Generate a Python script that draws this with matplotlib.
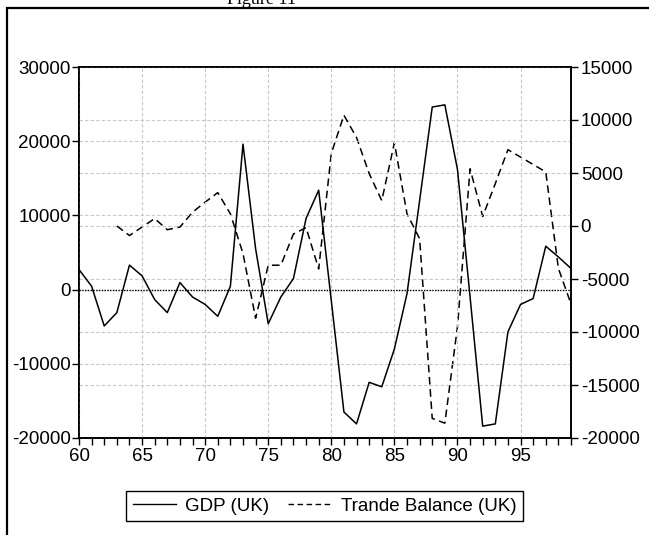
import matplotlib
matplotlib.use("Agg")
import matplotlib.pyplot as plt
from matplotlib.patches import Rectangle
from matplotlib.lines import Line2D

years = list(range(1960, 2000))
gdp = [2700, 450, -4900, -3100, 3300, 1850, -1350, -3100, 950, -1000,
       -2000, -3600, 450, 19600, 5500, -4600, -1000, 1500, 9600, 13400,
       -1500, -16500, -18100, -12500, -13100, -8000, -550, 12000, 24600, 24900,
       16200, -1000, -18400, -18100, -5700, -2000, -1200, 5850, 4400, 2850]
tb_years = list(range(1963, 2000))
trade = [0, -900, -100, 700, -350, -100, 1300, 2250, 3150, 1150,
         -2600, -8700, -3700, -3700, -750, -150, -4050, 6850, 10450, 8350,
         4950, 2400, 7850, 1150, -1200, -18150, -18600, -9500, 5400, 900,
         4000, 7200, 6500, 5800, 5100, -4000, -7350]
x_labels = ["60", "65", "70", "75", "80", "85", "90", "95"]
left_ticks = [-20000, -10000, 0, 10000, 20000, 30000]
right_ticks = [-20000, -15000, -10000, -5000, 0, 5000, 10000, 15000]

plt.rcParams['font.family'] = ['Liberation Sans', 'DejaVu Sans']
W, H = 649, 535
fig = plt.figure(figsize=(W / 100, H / 100), dpi=100)
ax = fig.add_axes([79 / W, 1 - 438 / H, (571 - 79) / W, (438 - 67) / H])
ax2 = ax.twinx()
ax.set_zorder(ax2.get_zorder() + 1)
ax.patch.set_visible(False)

fs = 13.5
grid_kw = dict(color='#c8c8c8', linestyle=(0, (3, 2)), linewidth=0.8)

ax.plot(years, gdp, color='black', linewidth=1.1, label='GDP (UK)')
ax.axhline(0, color='black', linestyle=(0, (1, 1)), linewidth=1.0)
ax2.plot(tb_years, trade, color='black', linewidth=1.1, linestyle=(0, (5, 3)),
         label='Trande Balance (UK)')

ax.set_xlim(1960, 1999)
ax.set_ylim(-20000, 30000)
ax2.set_ylim(-20000, 15000)

ax.set_xticks(list(range(1960, 2000, 5)))
ax.set_xticklabels(x_labels)
ax.set_xticks(list(range(1960, 2000)), minor=True)
ax.set_yticks(left_ticks)
ax.set_yticklabels([str(v) for v in left_ticks])
ax2.set_yticks(right_ticks)
ax2.set_yticklabels([str(v) for v in right_ticks])

ax.tick_params(axis='x', which='both', direction='out', length=5, width=1.0,
               labelsize=fs, pad=2)
ax.tick_params(axis='y', direction='out', length=5, width=1.0, labelsize=fs, pad=1)
ax2.tick_params(axis='y', direction='out', length=5, width=1.0, labelsize=fs, pad=2)

ax.grid(True, axis='both', which='major', **grid_kw)
ax2.grid(True, axis='y', **grid_kw)

for a in (ax, ax2):
    for s in a.spines.values():
        s.set_linewidth(1.2)

handles = [Line2D([], [], color='black', linewidth=1.0),
           Line2D([], [], color='black', linewidth=1.0, linestyle=(0, (4, 2.5)))]
leg = fig.legend(handles, ['GDP (UK)', 'Trande Balance (UK)'], loc='center',
                 bbox_to_anchor=(324.5 / W, 1 - 506 / H), ncol=2, fontsize=fs,
                 frameon=True, fancybox=False, framealpha=1, edgecolor='black',
                 handlelength=2.3, handletextpad=0.5, columnspacing=1.0,
                 borderpad=0.35, borderaxespad=0)
leg.get_frame().set_linewidth(1.0)

fig.patches.append(Rectangle((6.5 / W, -0.1), 2, 1 - 8 / H + 0.1,
                             transform=fig.transFigure, fill=False,
                             edgecolor='black', linewidth=1.6))
fig.text(262 / W, 1 - 4 / H, 'Figure 11', ha='center', va='baseline',
         fontsize=13, family=['Liberation Serif', 'DejaVu Serif'])

fig.savefig('out.png', dpi=100)
